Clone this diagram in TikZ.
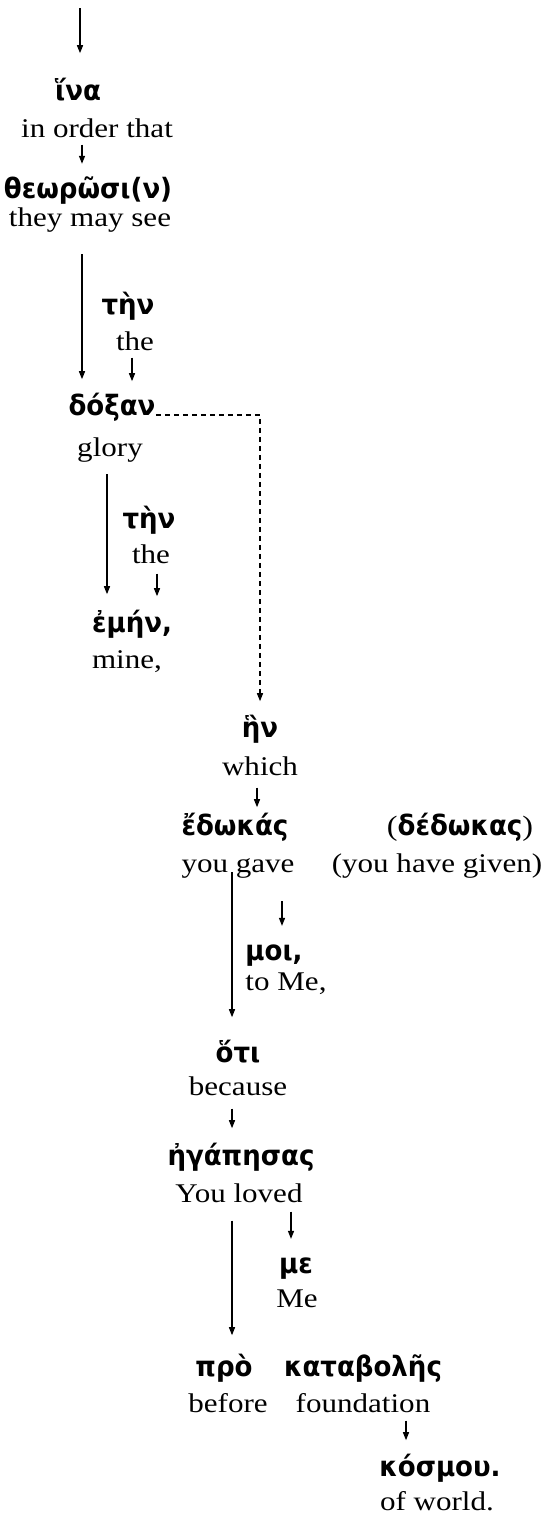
\documentclass[tikz,border=0pt]{standalone}
\usepackage{fontspec}
\setmainfont{Liberation Serif}[FakeStretch=1.15]
\newfontfamily\grk{DejaVu Sans}[FakeStretch=0.93]
\usetikzlibrary{arrows.meta}

\begin{document}
\begin{tikzpicture}[x=0.5pt,y=-0.5pt,>={Triangle[length=4pt,width=3pt]},
gr/.style={anchor=base,inner sep=0pt,font=\grk\bfseries\fontsize{14}{16}\selectfont},
en/.style={anchor=base,inner sep=0pt,font=\fontsize{13.5}{15}\selectfont},
arr/.style={->,line width=0.6pt},
dash line/.style={->,line width=0.6pt,dash pattern=on 2.5pt off 2pt}]
\useasboundingbox(0,0)rectangle(556,1526);
\node[gr](ina)at(78,100){ἵνα};
\node[en](inorder)at(97,137){in order that};
\node[gr](theor)at(88,198){θεωρῶσι(ν)};
\node[en](see)at(90,226){they may see};
\node[gr](ten1)at(128,314){τὴν};
\node[en](the1)at(135,350){the};
\node[gr](doxan)at(112,415){δόξαν};
\node[en](glory)at(110,456){glory};
\node[gr](ten2)at(149,528){τὴν};
\node[en](the2)at(151,563){the};
\node[gr](emen)at(132,632){ἐμήν,};
\node[en](mine)at(127,668){mine,};
\node[gr](hen)at(260,737){ἣν};
\node[en](which)at(260,775){which};
\node[gr](edokas)at(235,835){ἔδωκάς};
\node[gr](dedokas)at(460,835){{\normalfont(}δέδωκας{\normalfont)}};
\node[en](gave)at(238,872){you gave};
\node[en](given)at(437,872){(you have given)};
\node[gr](moi)at(274,960){μοι,};
\node[en](tome)at(286,990){to Me,};
\node[gr](hoti)at(238,1062){ὅτι};
\node[en](because)at(238,1095){because};
\node[gr](egapesas)at(241,1165){ἠγάπησας};
\node[en](loved)at(239,1202){You loved};
\node[gr](me)at(296,1273){με};
\node[en](Me)at(297,1307){Me};
\node[gr](pro)at(224,1376){πρὸ};
\node[gr](katabole)at(363,1376){καταβολῆς};
\node[en](before)at(228,1412){before};
\node[en](foundation)at(363,1412){foundation};
\node[gr](kosmou)at(440,1476){κόσμου.};
\node[en](world)at(437,1510){of world.};
\coordinate(top)at(80,8);
\draw[arr,shorten >=12pt](top)--(80,0 |- ina.north);
\draw[arr,shorten <=3.5pt,shorten >=6pt](82,0 |- inorder.south)--(82,0 |- theor.north);
\draw[arr,shorten <=11pt,shorten >=6.5pt](82,0 |- see.south)--(82,0 |- doxan.north);
\draw[arr,shorten <=3.5pt,shorten >=5.5pt](132,0 |- the1.south)--(132,0 |- doxan.north);
\draw[arr,shorten <=6pt,shorten >=7.5pt](107,0 |- glory.south)--(107,0 |- emen.north);
\draw[arr,shorten <=5pt,shorten >=6.5pt](157,0 |- the2.south)--(157,0 |- emen.north);
\draw[dash line,shorten >=6.5pt](doxan.base east)-|(hen.north);
\draw[arr,shorten <=6pt,shorten >=2.5pt](257,0 |- which.south)--(257,0 |- edokas.north);
\draw[arr,shorten >=11pt](232,0 |- gave.base)--(232,0 |- hoti.north);
\draw[arr,shorten <=11.5pt,shorten >=9pt](282,0 |- gave.south)--(282,0 |- moi.north);
\draw[arr,shorten <=6.5pt,shorten >=7pt](232,0 |- because.south)--(232,0 |- egapesas.north);
\draw[arr,shorten <=4.5pt,shorten >=9pt](291,0 |- loved.south)--(291,0 |- me.north);
\draw[arr,shorten <=9pt,shorten >=9pt](232,0 |- loved.south)--(232,0 |- pro.north);
\draw[arr,shorten <=4pt,shorten >=6.5pt](406,0 |- foundation.south)--(406,0 |- kosmou.north);
\end{tikzpicture}
\end{document}
